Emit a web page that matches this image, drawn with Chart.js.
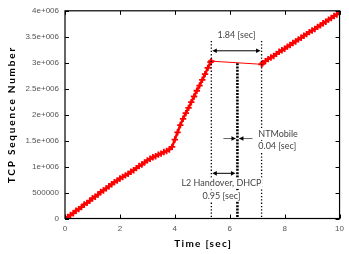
<!DOCTYPE html>
<html><head><meta charset="utf-8">
<script src="https://cdn.jsdelivr.net/npm/chart.js@4/dist/chart.umd.min.js"></script>
<style>html,body{margin:0;padding:0;background:#fff}#wrap{width:349px;height:254px}</style>
</head><body><div id="wrap"><canvas id="c" width="349" height="254"></canvas></div>
<script>
// time [sec]
const times = [0.0,0.1,0.2,0.3,0.4,0.5,0.6,0.7,0.8,0.9,1.0,1.1,1.2,1.3,1.4,1.5,1.6,1.7,1.8,1.9,2.0,
  2.1,2.2,2.3,2.4,2.5,2.6,2.7,2.8,2.9,3.0,3.1,3.2,3.3,3.4,3.5,3.6,3.7,3.8,3.9,
  4.0,4.1,4.2,4.3,4.4,4.5,4.6,4.7,4.8,4.9,5.0,5.1,5.2,5.3,5.33,
  7.16,7.2,7.3,7.4,7.5,7.6,7.7,7.8,7.9,8.0,8.1,8.2,8.3,8.4,8.5,8.6,8.7,8.8,8.9,9.0,
  9.1,9.2,9.3,9.4,9.5,9.6,9.7,9.8,9.9,10.0];
// TCP sequence number, in millions
const seqM = [0.00,0.03,0.07,0.10,0.15,0.18,0.22,0.27,0.30,0.34,0.39,0.42,0.46,0.51,0.54,0.58,0.62,0.66,0.70,0.73,0.77,
  0.80,0.83,0.86,0.90,0.93,0.97,1.01,1.04,1.08,1.12,1.15,1.18,1.20,1.23,1.25,1.28,1.30,1.33,1.38,
  1.52,1.66,1.80,1.92,2.03,2.13,2.24,2.35,2.46,2.56,2.67,2.78,2.90,3.01,3.03,
  2.97,2.99,3.03,3.07,3.10,3.13,3.17,3.21,3.24,3.27,3.31,3.34,3.38,3.41,3.45,3.48,3.52,3.55,3.59,3.62,
  3.65,3.69,3.72,3.76,3.79,3.83,3.86,3.90,3.93,3.97];
const yTickLabels = ['0','500000','1e+006','1.5e+006','2e+006','2.5e+006','3e+006','3.5e+006','4e+006'];
const xTickLabels = ['0','2','4','6','8','10'];
// annotation markers [sec]
const eventTimes = [5.33, 6.28, 7.16];
const annotTexts = ['1.84 [sec]','NTMobile','0.04 [sec]','L2 Handover, DHCP','0.95 [sec]'];

const pts = times.map((t,i)=>({x:t,y:seqM[i]}));

function arrowHead(ctx,x,y,dir){
  ctx.beginPath();
  ctx.moveTo(x,y);
  ctx.lineTo(x-dir*4.5,y-2.3);
  ctx.lineTo(x-dir*4.5,y+2.3);
  ctx.closePath();ctx.fill();
}
function boxedText(ctx,t,x,y){
  const w=ctx.measureText(t).width;
  let l=x; if(ctx.textAlign==='center') l=x-w/2;
  ctx.save();ctx.fillStyle='#fff';ctx.fillRect(l-1,y-5.5,w+2,11);ctx.restore();
  ctx.fillText(t,x,y);
}

const deco = {
  id:'deco',
  afterDatasetsDraw(chart){
    const ctx=chart.ctx, xs=chart.scales.x, ys=chart.scales.y, a=chart.chartArea;
    ctx.save();
    // box
    ctx.strokeStyle='#000';ctx.lineWidth=1.2;
    ctx.strokeRect(a.left,a.top,a.right-a.left,a.bottom-a.top);
    // inward ticks
    ctx.lineWidth=1;
    [0,2,4,6,8,10].forEach(v=>{const p=Math.round(xs.getPixelForValue(v))+0.5;
      ctx.beginPath();ctx.moveTo(p,a.bottom);ctx.lineTo(p,a.bottom-4);ctx.moveTo(p,a.top);ctx.lineTo(p,a.top+4);ctx.stroke();});
    for(let v=0;v<=4;v+=0.5){const p=Math.round(ys.getPixelForValue(v))+0.5;
      ctx.beginPath();ctx.moveTo(a.left,p);ctx.lineTo(a.left+4,p);ctx.moveTo(a.right,p);ctx.lineTo(a.right-4,p);ctx.stroke();}
    // event lines
    const x1=xs.getPixelForValue(eventTimes[0]), x2=xs.getPixelForValue(eventTimes[1]), x3=xs.getPixelForValue(eventTimes[2]);
    const yTop=ys.getPixelForValue(3.42), yMid=ys.getPixelForValue(2.99);
    ctx.strokeStyle='#000';ctx.lineWidth=1.3;ctx.setLineDash([1.3,2]);
    [x1,x3].forEach(x=>{ctx.beginPath();ctx.moveTo(x,yTop);ctx.lineTo(x,a.bottom);ctx.stroke();});
    ctx.lineWidth=2.6;ctx.setLineDash([2,1.3]);
    ctx.beginPath();ctx.moveTo(x2,yMid);ctx.lineTo(x2,a.bottom);ctx.stroke();
    ctx.setLineDash([]);
    // arrows
    ctx.fillStyle='#000';ctx.lineWidth=1;
    const yA=ys.getPixelForValue(3.23);
    ctx.beginPath();ctx.moveTo(x1+3,yA);ctx.lineTo(x3-3,yA);ctx.stroke();
    arrowHead(ctx,x1+1,yA,-1);arrowHead(ctx,x3-1,yA,1);
    const yL=ys.getPixelForValue(0.87);
    ctx.beginPath();ctx.moveTo(x1+3,yL);ctx.lineTo(x2-4,yL);ctx.stroke();
    arrowHead(ctx,x1+1,yL,-1);arrowHead(ctx,x2-2,yL,1);
    const yN=ys.getPixelForValue(1.54);
    ctx.strokeStyle='#666';
    ctx.beginPath();ctx.moveTo(x2-14,yN);ctx.lineTo(x2-2,yN);ctx.moveTo(x2+2,yN);ctx.lineTo(x2+15,yN);ctx.stroke();
    arrowHead(ctx,x2-1.5,yN,1);arrowHead(ctx,x2+1.5,yN,-1);
    // texts
    ctx.fillStyle='#444';ctx.font='9px Lato';ctx.textBaseline='middle';
    ctx.textAlign='center';
    boxedText(ctx,annotTexts[0],(x1+x3)/2,ys.getPixelForValue(3.54));
    ctx.textAlign='left';
    boxedText(ctx,annotTexts[1],xs.getPixelForValue(7.04),ys.getPixelForValue(1.63));
    boxedText(ctx,annotTexts[2],xs.getPixelForValue(7.04),ys.getPixelForValue(1.39));
    ctx.textAlign='center';
    boxedText(ctx,annotTexts[3],xs.getPixelForValue(5.7),ys.getPixelForValue(0.68));
    boxedText(ctx,annotTexts[4],xs.getPixelForValue(5.7),ys.getPixelForValue(0.44));
    // axis titles
    ctx.fillStyle='#000';ctx.font='bold 10px Lato';
    ctx.letterSpacing='1.3px';
    ctx.textAlign='center';
    ctx.fillText('Time [sec]',(a.left+a.right)/2+1,244);
    ctx.translate(12,(a.top+a.bottom)/2);ctx.rotate(-Math.PI/2);
    ctx.letterSpacing='1.8px';
    ctx.fillText('TCP Sequence Number',0,0);
    ctx.restore();
  }
};

new Chart(document.getElementById('c'),{
  type:'line',
  data:{datasets:[{data:pts,borderColor:'#ff0000',borderWidth:2.5,pointStyle:'cross',pointRadius:3.2,
    pointBorderWidth:1.8,pointBorderColor:'#ff0000',pointBackgroundColor:'#ff0000',tension:0,
    segment:{borderWidth:c=>(c.p0DataIndex===54?1:2.5)}}]},
  options:{
    responsive:false,animation:false,devicePixelRatio:1,
    layout:{padding:{left:0,top:7,right:8,bottom:0}},
    plugins:{legend:{display:false},tooltip:{enabled:false}},
    scales:{
      x:{type:'linear',min:0,max:10,
        afterFit:s=>{s.height=35.5;},
        afterBuildTicks:s=>{s.ticks=xTickLabels.map(v=>({value:+v}));},
        grid:{display:false,drawTicks:false},border:{display:false},
        ticks:{color:'#555',font:{family:'Liberation Sans',size:8},padding:5,
          callback:(v,i)=>xTickLabels[i]}},
      y:{type:'linear',min:0,max:4,
        afterFit:s=>{s.width=65;},
        afterBuildTicks:s=>{s.ticks=yTickLabels.map((l,i)=>({value:i*0.5}));},
        grid:{display:false,drawTicks:false},border:{display:false},
        ticks:{color:'#555',font:{family:'Liberation Sans',size:8},padding:6,
          callback:(v,i)=>yTickLabels[i]}}
    }
  },
  plugins:[deco]
});
</script></body></html>
